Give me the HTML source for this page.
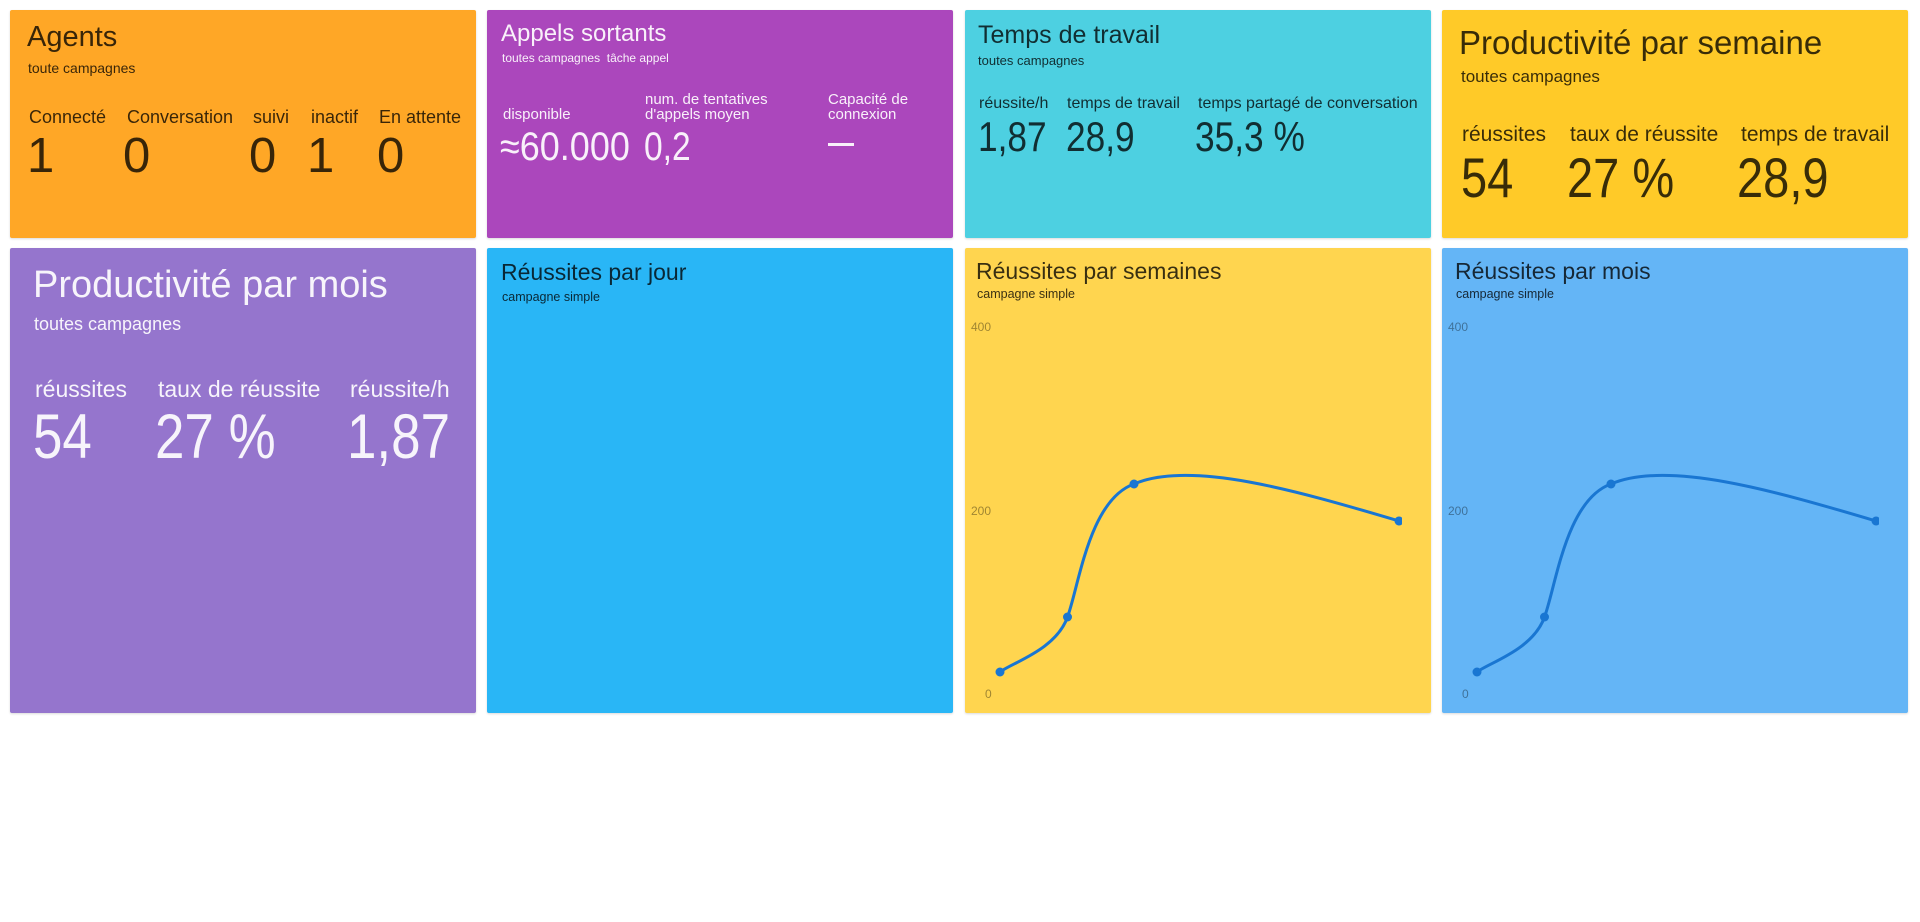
<!DOCTYPE html>
<html><head><meta charset="utf-8"><style>
html,body{margin:0;padding:0;width:1920px;height:922px;background:#fff;overflow:hidden;font-family:"Liberation Sans",sans-serif}
.c{position:absolute;border-radius:2px;box-shadow:0 1px 2px rgba(0,0,0,.15)}
.t{position:absolute;white-space:nowrap;line-height:1;color:rgba(0,0,0,.78)}
.w{color:rgba(255,255,255,.92)}
.n{transform:scaleX(.84);transform-origin:left center}
.ax{position:absolute;font-size:12px;line-height:1;color:rgba(0,0,0,.38)}
</style></head><body>
<div class="c" style="left:10px;top:10px;width:466px;height:228px;background:#FFA726"></div>
<div class="c" style="left:487px;top:10px;width:466px;height:228px;background:#AB47BC"></div>
<div class="c" style="left:965px;top:10px;width:466px;height:228px;background:#4DD0E1"></div>
<div class="c" style="left:1442px;top:10px;width:466px;height:228px;background:#FFCA28"></div>
<div class="c" style="left:10px;top:248px;width:466px;height:465px;background:#9575CD"></div>
<div class="c" style="left:487px;top:248px;width:466px;height:465px;background:#29B6F6"></div>
<div class="c" style="left:965px;top:248px;width:466px;height:465px;background:#FFD54F"></div>
<div class="c" style="left:1442px;top:248px;width:466px;height:465px;background:#64B5F6"></div>

<!-- Agents -->
<div class="t" style="left:27px;top:23px;font-size:29px">Agents</div>
<div class="t" style="left:28px;top:61px;font-size:14px">toute campagnes</div>
<div class="t" style="left:29px;top:108px;font-size:18px">Connecté</div>
<div class="t" style="left:127px;top:108px;font-size:18px">Conversation</div>
<div class="t" style="left:253px;top:108px;font-size:18px">suivi</div>
<div class="t" style="left:311px;top:108px;font-size:18px">inactif</div>
<div class="t" style="left:379px;top:108px;font-size:18px">En attente</div>
<div class="t" style="left:27px;top:132px;font-size:49px">1</div>
<div class="t" style="left:123px;top:132px;font-size:49px">0</div>
<div class="t" style="left:249px;top:132px;font-size:49px">0</div>
<div class="t" style="left:307px;top:132px;font-size:49px">1</div>
<div class="t" style="left:377px;top:132px;font-size:49px">0</div>

<!-- Appels -->
<div class="t w" style="left:501px;top:22px;font-size:24px">Appels sortants</div>
<div class="t w" style="left:502px;top:52px;font-size:12px">toutes campagnes&nbsp; tâche appel</div>
<div class="t w" style="left:503px;top:107px;font-size:15px">disponible</div>
<div class="t w" style="left:645px;top:92px;font-size:15px">num. de tentatives</div>
<div class="t w" style="left:645px;top:107px;font-size:15px">d'appels moyen</div>
<div class="t w" style="left:828px;top:92px;font-size:15px">Capacité de</div>
<div class="t w" style="left:828px;top:107px;font-size:15px">connexion</div>
<div class="t w n" style="left:500px;top:127px;font-size:40px;transform:scaleX(.9)">≈60.000</div>
<div class="t w n" style="left:644px;top:127px;font-size:40px">0,2</div>
<div style="position:absolute;left:828px;top:143px;width:26px;height:3px;background:rgba(255,255,255,.92)"></div>

<!-- Temps de travail -->
<div class="t" style="left:978px;top:23px;font-size:25px">Temps de travail</div>
<div class="t" style="left:978px;top:54px;font-size:13px">toutes campagnes</div>
<div class="t" style="left:979px;top:96px;font-size:16px">réussite/h</div>
<div class="t" style="left:1067px;top:96px;font-size:16px">temps de travail</div>
<div class="t" style="left:1198px;top:96px;font-size:16px">temps partagé de conversation</div>
<div class="t n" style="left:978px;top:116px;font-size:42px">1,87</div>
<div class="t n" style="left:1066px;top:116px;font-size:42px">28,9</div>
<div class="t n" style="left:1195px;top:116px;font-size:42px">35,3 %</div>

<!-- Productivité par semaine -->
<div class="t" style="left:1459px;top:26px;font-size:33px">Productivité par semaine</div>
<div class="t" style="left:1461px;top:68px;font-size:17px">toutes campagnes</div>
<div class="t" style="left:1462px;top:124px;font-size:21px">réussites</div>
<div class="t" style="left:1570px;top:124px;font-size:21px">taux de réussite</div>
<div class="t" style="left:1741px;top:124px;font-size:21px">temps de travail</div>
<div class="t n" style="left:1461px;top:150px;font-size:56px">54</div>
<div class="t n" style="left:1567px;top:150px;font-size:56px">27 %</div>
<div class="t n" style="left:1737px;top:150px;font-size:56px">28,9</div>

<!-- Productivité par mois -->
<div class="t w" style="left:33px;top:266px;font-size:38px">Productivité par mois</div>
<div class="t w" style="left:34px;top:315px;font-size:18px">toutes campagnes</div>
<div class="t w" style="left:35px;top:378px;font-size:23px">réussites</div>
<div class="t w" style="left:158px;top:378px;font-size:23px">taux de réussite</div>
<div class="t w" style="left:350px;top:378px;font-size:23px">réussite/h</div>
<div class="t w n" style="left:33px;top:406px;font-size:63px">54</div>
<div class="t w n" style="left:155px;top:406px;font-size:63px">27 %</div>
<div class="t w n" style="left:347px;top:406px;font-size:63px">1,87</div>

<!-- Réussites par jour -->
<div class="t" style="left:501px;top:261px;font-size:23px">Réussites par jour</div>
<div class="t" style="left:502px;top:291px;font-size:12.5px">campagne simple</div>

<!-- Semaines -->
<div class="t" style="left:976px;top:260px;font-size:23px">Réussites par semaines</div>
<div class="t" style="left:977px;top:288px;font-size:12.5px">campagne simple</div>
<div class="ax" style="left:971px;top:321px">400</div>
<div class="ax" style="left:971px;top:505px">200</div>
<div class="ax" style="left:985px;top:688px">0</div>
<svg style="position:absolute;left:965px;top:248px" width="437" height="465" viewBox="0 248 437 465">
<path d="M35,672 C46,663 91,650 102.5,617 C114,586 124,500 169,484 C225,460 330,490 434,521" fill="none" stroke="#1976D2" stroke-width="3"/>
<circle cx="35" cy="672" r="4.5" fill="#1976D2"/><circle cx="102.5" cy="617" r="4.5" fill="#1976D2"/><circle cx="169" cy="484" r="4.5" fill="#1976D2"/><circle cx="434" cy="521" r="4.5" fill="#1976D2"/>
</svg>

<!-- Mois -->
<div class="t" style="left:1455px;top:260px;font-size:23px">Réussites par mois</div>
<div class="t" style="left:1456px;top:288px;font-size:12.5px">campagne simple</div>
<div class="ax" style="left:1448px;top:321px">400</div>
<div class="ax" style="left:1448px;top:505px">200</div>
<div class="ax" style="left:1462px;top:688px">0</div>
<svg style="position:absolute;left:1442px;top:248px" width="437" height="465" viewBox="0 248 437 465">
<path d="M35,672 C46,663 91,650 102.5,617 C114,586 124,500 169,484 C225,460 330,490 434,521" fill="none" stroke="#1976D2" stroke-width="3"/>
<circle cx="35" cy="672" r="4.5" fill="#1976D2"/><circle cx="102.5" cy="617" r="4.5" fill="#1976D2"/><circle cx="169" cy="484" r="4.5" fill="#1976D2"/><circle cx="434" cy="521" r="4.5" fill="#1976D2"/>
</svg>
</body></html>
